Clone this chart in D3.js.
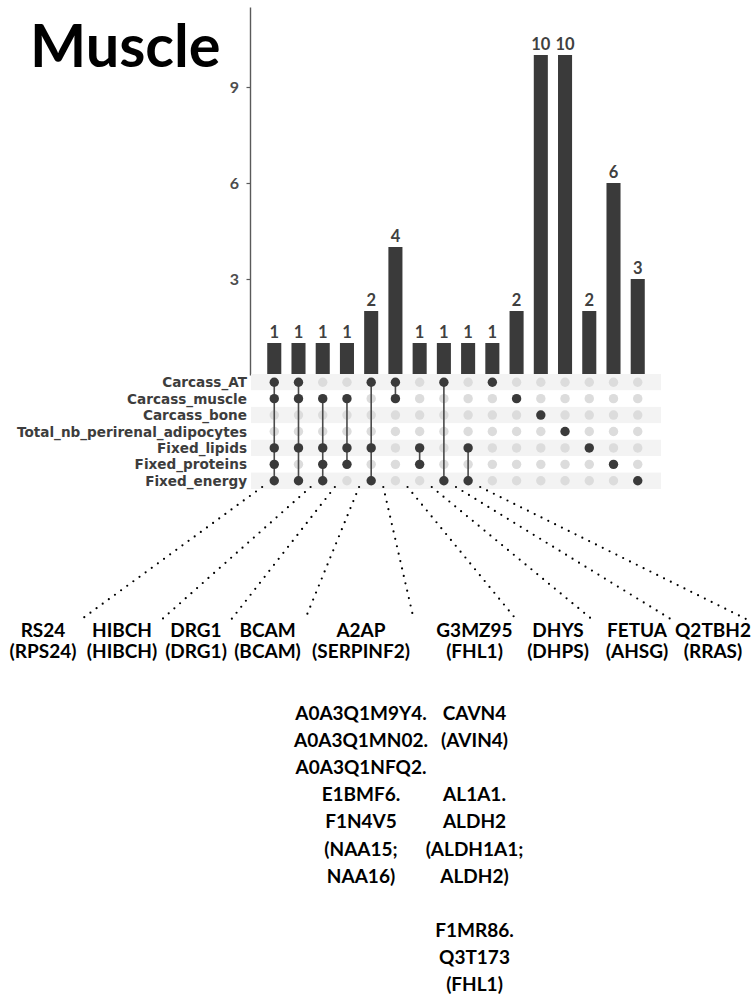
<!DOCTYPE html>
<html>
<head>
<meta charset="utf-8">
<script src="https://cdn.jsdelivr.net/npm/d3@7"></script>
<style>
  html, body { margin: 0; padding: 0; background: #ffffff; }
  svg { display: block; }
  text { font-family: Lato, "Open Sans", sans-serif; font-weight: 700; }
  text.rowlab { font-family: "DejaVu Sans", sans-serif; }
</style>
</head>
<body>
<div id="chart"></div>
<script>
// ---------------- data ----------------
const title = "Muscle";
const sets = ["Carcass_AT", "Carcass_muscle", "Carcass_bone", "Total_nb_perirenal_adipocytes",
              "Fixed_lipids", "Fixed_proteins", "Fixed_energy"];
const intersectionSizes = [1, 1, 1, 1, 2, 4, 1, 1, 1, 1, 2, 10, 10, 2, 6, 3];
const intersectionMembers = [
  [0, 1, 4, 5, 6], [0, 1, 4, 6], [1, 4, 5, 6], [1, 4, 5], [0, 4, 6], [0, 1],
  [4, 5], [0, 6], [4, 6], [0], [1], [2], [3], [4], [5], [6]
];
const yTicks = [3, 6, 9];
// protein labels for intersections 0..8
const proteinHead = [
  ["RS24", "(RPS24)"], ["HIBCH", "(HIBCH)"], ["DRG1", "(DRG1)"], ["BCAM", "(BCAM)"],
  ["A2AP", "(SERPINF2)"], ["G3MZ95", "(FHL1)"], ["DHYS", "(DHPS)"], ["FETUA", "(AHSG)"],
  ["Q2TBH2", "(RRAS)"]
];
const proteinMore = [
  [], [], [], [],
  [["A0A3Q1M9Y4.", "A0A3Q1MN02.", "A0A3Q1NFQ2.", "E1BMF6.", "F1N4V5", "(NAA15;", "NAA16)"]],
  [["CAVN4", "(AVIN4)"], ["AL1A1.", "ALDH2", "(ALDH1A1;", "ALDH2)"], ["F1MR86.", "Q3T173", "(FHL1)"]],
  [], [], []
];

// ---------------- layout ----------------
const W = 752, H = 995;
const labelX = [43, 122, 196, 267.5, 361, 474.5, 558, 637, 713];
const linkSide = [-1, 1, 1, 1, 1, 1, 1, 1, 1];

const svg = d3.select("#chart").append("svg")
  .attr("width", W).attr("height", H)
  .attr("viewBox", `0 0 ${W} ${H}`);
svg.append("rect").attr("width", W).attr("height", H).attr("fill", "#ffffff");

const x = d3.scaleBand().domain(d3.range(intersectionSizes.length))
  .range([251, 661]).paddingInner(0.42).paddingOuter(0.67);
const y = d3.scaleLinear().domain([0, 11.5]).range([375, 7]);
const rowY = d3.scaleBand().domain(d3.range(sets.length)).range([374, 489]);
const cx = i => x(i) + x.bandwidth() / 2;
const cy = r => rowY(r) + rowY.bandwidth() / 2;

// title
svg.append("text").attr("x", 30).attr("y", 67)
  .attr("font-size", 59.5).attr("fill", "#000").text(title);

// y axis
const yAxis = d3.axisLeft(y).tickValues(yTicks).tickSize(3.5).tickSizeOuter(0).tickPadding(7.5);
const gAxis = svg.append("g").attr("transform", "translate(250,0)").call(yAxis);
gAxis.select(".domain").attr("stroke", "#5a5a5a").attr("stroke-width", 1.4);
gAxis.selectAll(".tick line").attr("stroke", "#5a5a5a").attr("stroke-width", 1.2);
gAxis.selectAll(".tick text").attr("font-size", 16).attr("font-family", "Lato, sans-serif")
  .attr("font-weight", 700).attr("fill", "#4d4d4d");

// bars
svg.append("g").selectAll("rect").data(intersectionSizes).join("rect")
  .attr("x", (d, i) => x(i)).attr("width", x.bandwidth())
  .attr("y", d => y(d)).attr("height", d => y(0) - y(d))
  .attr("fill", "#3a3a3a");
svg.append("g").selectAll("text").data(intersectionSizes).join("text")
  .attr("x", (d, i) => cx(i)).attr("y", d => y(d) - 5)
  .attr("text-anchor", "middle").attr("font-size", 16.5).attr("fill", "#404040")
  .text(d => d);

// matrix stripes
svg.append("g").selectAll("rect").data(sets).join("rect")
  .attr("x", 251).attr("width", 410)
  .attr("y", (d, i) => rowY(i)).attr("height", rowY.bandwidth())
  .attr("fill", (d, i) => i % 2 === 0 ? "#f3f3f3" : "#ffffff");

// row labels
svg.append("g").selectAll("text").data(sets).join("text")
  .attr("class", "rowlab")
  .attr("x", 247).attr("y", (d, i) => cy(i))
  .attr("text-anchor", "end").attr("dominant-baseline", "central")
  .attr("font-size", 13.6).attr("fill", "#3d3d3d").text(d => d);

// matrix dots
const cells = [];
intersectionSizes.forEach((s, i) => sets.forEach((name, r) =>
  cells.push({ i, r, on: intersectionMembers[i].includes(r) })));
svg.append("g").selectAll("circle").data(cells.filter(c => !c.on)).join("circle")
  .attr("cx", c => cx(c.i)).attr("cy", c => cy(c.r)).attr("r", 4.7).attr("fill", "#dcdcdc");
svg.append("g").selectAll("line").data(intersectionMembers.map((m, i) => ({ i, m })).filter(d => d.m.length > 1))
  .join("line")
  .attr("x1", d => cx(d.i)).attr("x2", d => cx(d.i))
  .attr("y1", d => cy(d3.min(d.m))).attr("y2", d => cy(d3.max(d.m)))
  .attr("stroke", "#4a4a4a").attr("stroke-width", 1.6);
svg.append("g").selectAll("circle").data(cells.filter(c => c.on)).join("circle")
  .attr("cx", c => cx(c.i)).attr("cy", c => cy(c.r)).attr("r", 4.7).attr("fill", "#3a3a3a");

// protein labels
const gLab = svg.append("g");
const headBase = [637, 658];
const moreBase = 720, moreStep = 27.1;
const rightEdges = [];
proteinHead.forEach((lines, k) => {
  let maxW = 0;
  lines.forEach((t, j) => {
    const el = gLab.append("text").attr("x", labelX[k]).attr("y", headBase[j])
      .attr("text-anchor", "middle").attr("font-size", 19).attr("fill", "#000").text(t);
    maxW = Math.max(maxW, el.node().getComputedTextLength());
  });
  rightEdges.push(labelX[k] + maxW / 2);
  const blocks = proteinMore[k];
  let line = 0;
  blocks.forEach((blk, b) => {
    if (b > 0) line += 1;
    blk.forEach(t => {
      gLab.append("text").attr("x", labelX[k]).attr("y", moreBase + line * moreStep)
        .attr("text-anchor", "middle").attr("font-size", 19).attr("fill", "#000").text(t);
      line += 1;
    });
  });
});

// dotted leader lines
svg.append("g").selectAll("line").data(proteinHead.map((d, k) => k)).join("line")
  .attr("x1", k => cx(k) + linkSide[k] * x.step() / 2)
  .attr("y1", 487)
  .attr("x2", k => Math.min(rightEdges[k] + 4, 748))
  .attr("y2", 620)
  .attr("stroke", "#000").attr("stroke-width", 2.2)
  .attr("stroke-linecap", "round").attr("stroke-dasharray", "0 7.6");
</script>
</body>
</html>
